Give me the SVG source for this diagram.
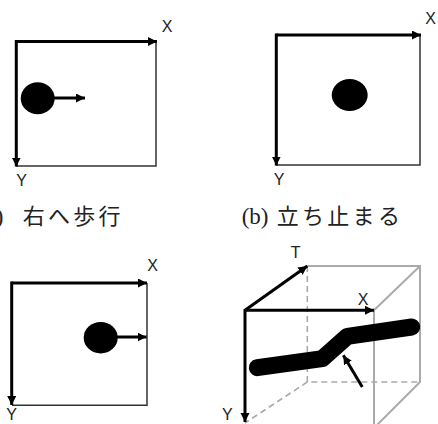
<svg xmlns="http://www.w3.org/2000/svg" width="438" height="424" viewBox="0 0 438 424">
<style>
.ax{stroke:#000;stroke-width:3;fill:none}
.fr{stroke:#333;stroke-width:1.5;fill:none}
.gr{stroke:#aaa;stroke-width:2;fill:none}
.gd{stroke:#aaa;stroke-width:1.6;fill:none;stroke-dasharray:6 4}
.lb{font-family:"Liberation Sans",Arial,sans-serif;font-size:16px;fill:#222;text-anchor:middle}
.cap{font-family:"Noto Sans CJK JP",sans-serif;font-size:22px;fill:#222;letter-spacing:3.3px}
.par{font-family:"Liberation Serif","Noto Sans CJK JP",serif;font-size:23px;fill:#222}
</style>
<defs>
<marker id="ah" markerUnits="userSpaceOnUse" markerWidth="10" markerHeight="10" refX="9" refY="4.5" orient="auto">
<path d="M0,0 L9,4.5 L0,9 Z" fill="#000"/>
</marker>
</defs>
<g id="panel-a">
<path class="fr" d="M156,41 V166 H16"/>
<line class="ax" x1="16" y1="41.5" x2="157" y2="41.5" marker-end="url(#ah)"/>
<line class="ax" x1="16.3" y1="40" x2="16.3" y2="166.5" marker-end="url(#ah)"/>
<ellipse cx="37.7" cy="98.3" rx="17" ry="16" fill="#000"/>
<line class="ax" x1="54" y1="98" x2="85" y2="98" marker-end="url(#ah)"/>
<text class="lb" x="167" y="32">X</text>
<text class="lb" x="21.7" y="186">Y</text>
<text y="224"><tspan class="par" x="3.5" text-anchor="end">(a)</tspan><tspan class="cap" x="22.7">右へ歩行</tspan></text>
</g>
<g id="panel-b">
<path class="fr" d="M420,35 V165 H276"/>
<line class="ax" x1="276.3" y1="35" x2="421" y2="35" marker-end="url(#ah)"/>
<line class="ax" x1="276.3" y1="33.5" x2="276.3" y2="165.5" marker-end="url(#ah)"/>
<ellipse cx="349.7" cy="95" rx="18" ry="16" fill="#000"/>
<text class="lb" x="430.7" y="24">X</text>
<text class="lb" x="279" y="185">Y</text>
<text y="224"><tspan class="par" x="241.7">(b)</tspan><tspan class="cap" x="276.7">立ち止まる</tspan></text>
</g>
<g id="panel-c">
<path class="fr" d="M147,283 V405.3 H12"/>
<line class="ax" x1="11.7" y1="283" x2="147" y2="283" marker-end="url(#ah)"/>
<line class="ax" x1="11.7" y1="281.5" x2="11.7" y2="405" marker-end="url(#ah)"/>
<ellipse cx="100.7" cy="337.7" rx="17" ry="15.7" fill="#000"/>
<line class="ax" x1="117" y1="337" x2="146.5" y2="337" marker-end="url(#ah)"/>
<text class="lb" x="152.7" y="271">X</text>
<text class="lb" x="11.7" y="420">Y</text>
</g>
<g id="panel-d">
<path class="gd" d="M307.3,266 V382 H420"/>
<line class="gd" x1="307.3" y1="382" x2="245" y2="423"/>
<path class="gr" d="M307.3,266 H420 V382 L374,428"/>
<line class="gr" x1="374" y1="310.3" x2="420" y2="266"/>
<line class="gr" x1="374" y1="310.3" x2="374" y2="430"/>
<line class="ax" x1="245" y1="310.3" x2="374" y2="310.3" marker-end="url(#ah)"/>
<line class="ax" x1="245" y1="310.3" x2="307.3" y2="266" marker-end="url(#ah)"/>
<line class="ax" x1="245" y1="309" x2="245" y2="422" marker-end="url(#ah)"/>
<path d="M257.3,367.7 L322.3,358.7 L347.3,336.3 L411.7,327" fill="none" stroke="#000" stroke-width="17" stroke-linecap="round" stroke-linejoin="round"/>
<line class="ax" x1="362.3" y1="387" x2="343.3" y2="355.3" marker-end="url(#ah)"/>
<text class="lb" x="295.7" y="258">T</text>
<text class="lb" x="363" y="305">X</text>
<text class="lb" x="227.3" y="420">Y</text>
</g>
</svg>
